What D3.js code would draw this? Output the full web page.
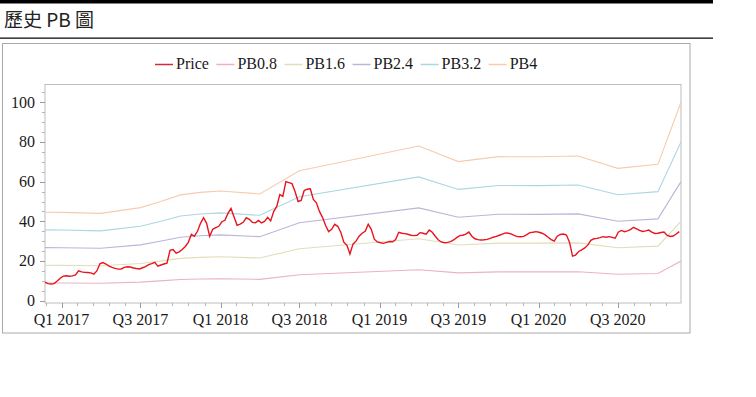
<!DOCTYPE html>
<html>
<head>
<meta charset="utf-8">
<script src="https://cdn.jsdelivr.net/npm/d3@7"></script>
<style>
  body { margin: 0; background: #fff; }
  svg { display: block; }
  .serif { font-family: "Liberation Serif", "Times New Roman", Tinos, "DejaVu Serif", serif; }
</style>
</head>
<body>
<div id="chart"></div>
<script>
// book value per share at each report node (PB bands = multiple * book value)
var bookDates = ["2016-11-24", "2017-01-01", "2017-04-01", "2017-07-01", "2017-08-15", "2017-10-01",
    "2017-11-15", "2018-01-01", "2018-04-01", "2018-07-01", "2019-04-01", "2019-07-01",
    "2019-10-01", "2020-01-01", "2020-04-01", "2020-07-01", "2020-10-01", "2020-11-23"];
var bookValues = [11.15, 11.13, 11.0, 11.73, 12.48, 13.33,
    13.65, 13.83, 13.45, 16.38, 19.5, 17.53,
    18.15, 18.13, 18.23, 16.68, 17.18, 25.0];
var pbMultiples = [0.8, 1.6, 2.4, 3.2, 4];

// weekly closing price, starting at priceStart
var priceStart = "2016-11-24";
var priceWeekly = [
    9.3, 8.6, 8.4, 8.6, 9.9, 11.3, 12.4, 12.6, 12.3, 12.5,
    13.0, 15.0, 14.5, 14.3, 14.2, 14.0, 13.4, 15.0, 18.6, 19.2,
    18.5, 17.4, 16.8, 16.3, 15.9, 16.0, 16.8, 17.1, 17.0, 16.5,
    16.2, 16.0, 16.6, 17.2, 18.2, 18.7, 19.3, 17.4, 18.0, 18.5,
    18.9, 25.4, 25.8, 24.0, 24.6, 25.8, 27.3, 29.4, 33.5, 32.5,
    35.0, 39.0, 41.8, 39.0, 32.5, 36.0, 36.8, 37.5, 39.8, 40.5,
    44.0, 46.5, 42.2, 38.0, 38.6, 39.5, 41.8, 41.0, 39.5, 39.3,
    40.5, 39.2, 40.0, 42.0, 40.2, 44.9, 47.5, 53.5, 52.6, 60.0,
    59.5, 59.0, 55.0, 50.0, 50.5, 55.5, 56.2, 56.4, 51.0, 49.3,
    45.0, 42.0, 38.0, 34.8, 36.0, 38.5, 37.5, 34.5, 29.5, 28.0,
    23.5, 28.5, 30.0, 32.5, 34.0, 35.0, 38.5, 36.0, 31.0, 29.6,
    29.2, 28.9, 29.4, 29.8, 29.7, 30.8, 34.5, 34.0, 33.8, 33.5,
    33.0, 32.8, 33.0, 34.3, 34.0, 33.5, 35.6, 34.5, 32.5, 30.6,
    29.6, 29.2, 29.4, 29.8, 30.6, 31.8, 32.8, 33.0, 33.6, 34.6,
    32.5, 31.2, 30.8, 30.6, 30.7, 30.9, 31.4, 32.0, 32.4, 33.0,
    33.6, 34.2, 34.0, 33.6, 32.8, 32.3, 32.2, 32.4, 33.3, 34.3,
    34.5, 34.8, 34.5, 34.0, 33.2, 32.0, 30.8, 30.0, 32.5, 33.4,
    33.6, 33.1, 29.5, 22.5, 23.0, 24.8, 25.6, 26.6, 28.0, 30.4,
    31.2, 31.4, 31.8, 32.3, 32.0, 32.3, 31.9, 31.5, 34.5, 35.4,
    34.8, 35.2, 35.8, 37.0, 36.2, 35.4, 34.9, 35.2, 35.6, 34.6,
    33.9, 34.0, 34.4, 34.6, 33.0, 32.4, 32.6, 33.6, 34.8
];

var seriesNames = ["Price", "PB0.8", "PB1.6", "PB2.4", "PB3.2", "PB4"];
var seriesColours = ["#e8141e", "#ebb3c0", "#e3ddb9", "#bbb5d8", "#acd6e2", "#f6cbb0"];
var yTicks = [0, 20, 40, 60, 80, 100];
var dateDomain = ["2016-11-24", "2020-11-23"];

var parseDate = d3.timeParse("%Y-%m-%d");

var svgWidth = 756, svgHeight = 397;
var svg = d3.select("#chart").append("svg")
    .attr("width", svgWidth).attr("height", svgHeight);

// page header
svg.append("rect").attr("x", 0).attr("y", 0).attr("width", 713).attr("height", 3.5).attr("fill", "#000");
svg.append("text")
    .attr("x", 4).attr("y", 27)
    .style("font-family", "'Noto Sans CJK TC', 'Noto Sans', sans-serif")
    .style("font-size", "19px")
    .attr("fill", "#222")
    .text("歷史 PB 圖");
svg.append("rect").attr("x", 0).attr("y", 37.5).attr("width", 713).attr("height", 1.3).attr("fill", "#111");

// chart frame
svg.append("rect")
    .attr("x", 2.5).attr("y", 43.5).attr("width", 687.5).attr("height", 289.5)
    .attr("fill", "none").attr("stroke", "#a8a8a8").attr("stroke-width", 1);

var plot = {left: 45, top: 84.5, right: 681, bottom: 303};

var x = d3.scaleTime()
    .domain(dateDomain.map(parseDate))
    .range([plot.left, plot.right]);
var y = d3.scaleLinear()
    .domain([0, 100])
    .range([300.7, 102.3]);

// plot box
svg.append("rect")
    .attr("x", plot.left).attr("y", plot.top)
    .attr("width", plot.right - plot.left).attr("height", plot.bottom - plot.top)
    .attr("fill", "none").attr("stroke", "#bdbdbd").attr("stroke-width", 1);

svg.append("clipPath").attr("id", "plotClip")
    .append("rect")
    .attr("x", plot.left).attr("y", plot.top)
    .attr("width", plot.right - plot.left).attr("height", plot.bottom - plot.top);

// Y Axis
var yMinor = d3.range(0, 110, 5);
var yAxis = svg.append("g").attr("class", "y axis");
yAxis.selectAll("line.minor")
    .data(yMinor).enter().append("line")
    .attr("class", "minor")
    .attr("x1", plot.left - 3).attr("x2", plot.left)
    .attr("y1", function(d) { return Math.round(y(d)) + 0.5; })
    .attr("y2", function(d) { return Math.round(y(d)) + 0.5; })
    .attr("stroke", "#b5b5b5");
yAxis.selectAll("line.major")
    .data(yTicks).enter().append("line")
    .attr("class", "major")
    .attr("x1", plot.left - 5).attr("x2", plot.left)
    .attr("y1", function(d) { return Math.round(y(d)) + 0.5; })
    .attr("y2", function(d) { return Math.round(y(d)) + 0.5; })
    .attr("stroke", "#9a9a9a");
yAxis.selectAll("text")
    .data(yTicks).enter().append("text")
    .attr("class", "serif")
    .attr("x", plot.left - 10)
    .attr("y", function(d) { return y(d); })
    .attr("dy", "0.34em")
    .attr("text-anchor", "end")
    .style("font-size", "16px")
    .attr("fill", "#1a1a1a")
    .text(function(d) { return d; });

// X Axis: half-year labels, each half split in 5 minor ticks
var xMajor = d3.timeMonth.every(6).range(x.domain()[0], x.domain()[1]);
var xMinor = [];
var halfStart = d3.timeMonth.offset(xMajor[0], -6);
for (var h = halfStart; h < x.domain()[1]; h = d3.timeMonth.offset(h, 6)) {
    var hEnd = d3.timeMonth.offset(h, 6);
    for (var k = 0; k < 5; k++) {
        var t = new Date(+h + (hEnd - h) * k / 5);
        if (t >= x.domain()[0] && t <= x.domain()[1]) xMinor.push(t);
    }
}
var xAxis = svg.append("g").attr("class", "x axis");
xAxis.selectAll("line.minor")
    .data(xMinor).enter().append("line")
    .attr("class", "minor")
    .attr("x1", function(d) { return Math.round(x(d)) + 0.5; })
    .attr("x2", function(d) { return Math.round(x(d)) + 0.5; })
    .attr("y1", plot.bottom).attr("y2", plot.bottom + 3)
    .attr("stroke", "#b5b5b5");
xAxis.selectAll("line.major")
    .data(xMajor).enter().append("line")
    .attr("class", "major")
    .attr("x1", function(d) { return Math.round(x(d)) + 0.5; })
    .attr("x2", function(d) { return Math.round(x(d)) + 0.5; })
    .attr("y1", plot.bottom).attr("y2", plot.bottom + 5)
    .attr("stroke", "#9a9a9a");
xAxis.selectAll("text")
    .data(xMajor).enter().append("text")
    .attr("class", "serif")
    .attr("x", function(d) { return x(d); })
    .attr("y", 325)
    .attr("text-anchor", "middle")
    .style("font-size", "16px")
    .attr("fill", "#1a1a1a")
    .text(function(d) { return "Q" + (Math.floor(d.getMonth() / 3) + 1) + " " + d.getFullYear(); });

// lines
var line = d3.line()
    .x(function(d) { return x(d.date); })
    .y(function(d) { return y(d.value); });

var lines = svg.append("g").attr("clip-path", "url(#plotClip)");

pbMultiples.forEach(function(m, i) {
    var band = bookDates.map(function(d, j) {
        return {date: parseDate(d), value: bookValues[j] * m};
    });
    lines.append("path")
        .datum(band)
        .attr("fill", "none")
        .attr("stroke", seriesColours[i + 1])
        .attr("stroke-width", 1.1)
        .attr("d", line);
});

var priceData = priceWeekly.map(function(v, i) {
    return {date: d3.timeWeek.offset(parseDate(priceStart), i), value: v};
});
lines.append("path")
    .datum(priceData)
    .attr("fill", "none")
    .attr("stroke", seriesColours[0])
    .attr("stroke-width", 1.4)
    .attr("stroke-linejoin", "miter")
    .attr("d", line);

// Legend
var legend = svg.append("g").attr("class", "legend")
    .attr("transform", "translate(155 64)");
var cursor = 0;
seriesNames.forEach(function(name, i) {
    var item = legend.append("g").attr("transform", "translate(" + cursor + " 0)");
    item.append("line")
        .attr("x1", 0).attr("x2", 18).attr("y1", 0.5).attr("y2", 0.5)
        .attr("stroke", i == 0 ? "#d42a3a" : seriesColours[i])
        .attr("stroke-width", 1.5);
    var label = item.append("text")
        .attr("class", "serif")
        .attr("x", 21).attr("y", 0)
        .attr("dy", "0.34em")
        .style("font-size", "16px")
        .attr("fill", "#1a1a1a")
        .text(name);
    cursor += 21 + label.node().getComputedTextLength() + 7.5;
});
</script>
</body>
</html>
